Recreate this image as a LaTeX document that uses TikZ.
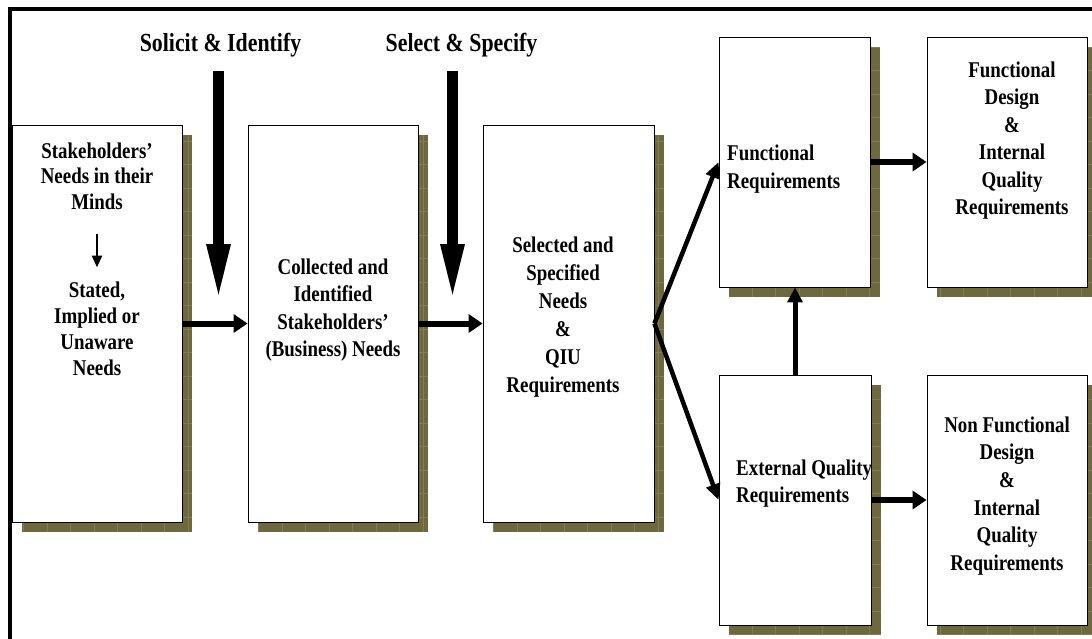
\documentclass[tikz,border=0pt]{standalone}
\usepackage{fontspec}
\setmainfont{Liberation Serif}[FakeStretch=0.84]
\usetikzlibrary{arrows.meta,fit}
\definecolor{shadowc}{RGB}{110,105,58}
\definecolor{gridc}{RGB}{130,125,84}
\newcommand\myshbox[5]{%
  \fill[shadowc] ({#2+10},{#3+10}) rectangle ({#4+10},{#5+10});
  \begin{scope}
    \clip ({#2+10},{#3+10}) rectangle ({#4+10},{#5+10});
    \draw[gridc, line width=0.5pt, step=23.5pt] ({#2+10},{#3+10}) grid ({#4+10},{#5+10});
  \end{scope}
  \node[box, fit={(#2,#3) (#4,#5)}] (#1) {};
}
\tikzset{
  box/.style={draw=black, fill=white, inner sep=0pt, line width=0.9pt},
  txt/.style={inner sep=0pt, font=\bfseries\fontsize{22.5}{#1}\selectfont, align=center, anchor=north},
  txt/.default=27,
  ltxt/.style={inner sep=0pt, font=\bfseries\fontsize{22.5}{#1}\selectfont, align=left, anchor=north west},
  ltxt/.default=27,
  ttl/.style={inner sep=0pt, font=\bfseries\fontsize{26}{30}\selectfont, anchor=north},
  bigarr/.style={line width=11pt, -{Triangle[width=21pt,length=59pt]}},
  harr/.style={line width=6pt, -{Triangle[width=18pt,length=14pt]}},
  darr/.style={line width=4.5pt, -{Triangle[width=14pt,length=16pt]}},
  varr/.style={line width=5pt, -{Triangle[width=15pt,length=15pt]}},
  smallarr/.style={line width=2.5pt, -{Triangle[width=10pt,length=12pt]}},
}
\begin{document}
\begin{tikzpicture}[x=1pt,y=-1pt]
\useasboundingbox (0,0) rectangle (1092,639);
\fill[white] (0,0) rectangle (1092,639);
% frame
\draw[line width=4pt] (10,639) -- (10,9) -- (1092,9);

% boxes
\myshbox{b1}{12}{125}{182}{522}
\myshbox{b2}{248}{125}{418}{522}
\myshbox{b3}{483}{125}{654}{522}
\myshbox{b4}{719}{37}{870}{287}
\myshbox{b5}{927}{37}{1087}{287}
\myshbox{b6}{719}{375}{871}{625}
\myshbox{b7}{927}{375}{1087}{625}

% texts
\node[txt=25.5] (t1a) at (97,142.5) {Stakeholders'\\Needs in their\\Minds};
\node[txt=26] (t1b) at (97,281.5) {Stated,\\Implied or\\Unaware\\Needs};
\node[txt=27.5] (t2) at (333,258.5) {Collected and\\Identified\\Stakeholders'\\(Business) Needs};
\node[txt=28] (t3) at (563,236.5) {Selected and\\Specified\\Needs\\\&\\QIU\\Requirements};
\node[ltxt=28] (t4) at (727,144.5) {Functional\\Requirements};
\node[txt=27.5] (t5) at (1012,61.5) {Functional\\Design\\\&\\Internal\\Quality\\Requirements};
\node[ltxt=27] (t6) at (736,459.5) {External Quality\\Requirements};
\node[txt=27.6] (t7) at (1007,416.5) {Non Functional\\Design\\\&\\Internal\\Quality\\Requirements};

% titles
\node[ttl] (s1) at (220.5,32.5) {Solicit \& Identify};
\node[ttl] (s2) at (461.5,32.5) {Select \& Specify};
\coordinate (a1s) at (218.5,71);
\coordinate (a1e) at (218.5,303);
\coordinate (a2s) at (452.5,71);
\coordinate (a2e) at (452.5,303);
\draw[bigarr] (a1s) -- (a1e);
\draw[bigarr] (a2s) -- (a2e);

% connectors
\draw[smallarr, shorten <=24pt, shorten >=14pt] (t1a.south) -- (t1b.north);
\draw[harr] (b1.east) -- (b2.west);
\draw[harr] (b2.east) -- (b3.west);
\draw[darr] (b3.east) -- (b4.west);
\draw[darr] (b3.east) -- (b6.west);
\draw[harr] (b4.east) -- (b5.west);
\draw[harr] (b6.east) -- (b7.west);
\draw[varr] (b6.north) -- (b6.north |- b4.south);
\end{tikzpicture}
\end{document}
